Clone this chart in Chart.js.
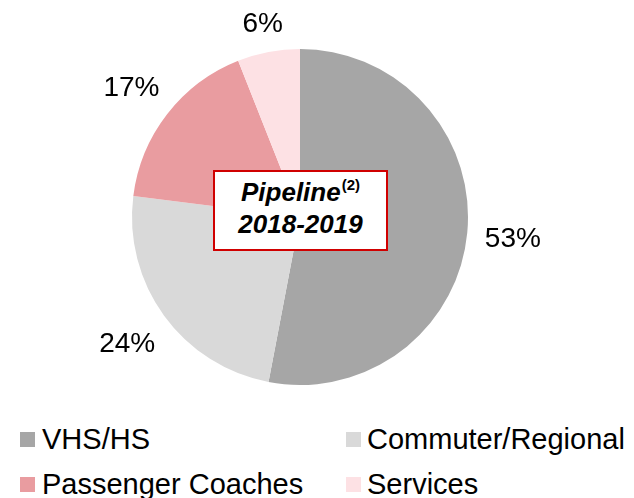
<!DOCTYPE html>
<html><head><meta charset="utf-8">
<script src="https://cdn.jsdelivr.net/npm/chart.js@4/dist/chart.umd.min.js"></script>
<style>
html,body{margin:0;padding:0;background:#fff;}
#wrap{position:relative;width:634px;height:498px;font-family:"Liberation Sans",Arial,sans-serif;overflow:hidden;}
#cv{position:absolute;left:0;top:0;}
#box{position:absolute;left:213px;top:170px;width:171px;height:77px;border:2px solid #d00000;background:#fff;box-sizing:content-box;text-align:center;font-weight:bold;font-style:italic;font-size:26px;color:#000;line-height:32px;}
#box .l1{margin-top:4px;}
#box sup{font-size:15px;position:relative;top:1px;vertical-align:top;line-height:15px;font-style:normal;margin-left:1px;}
.lg{position:absolute;font-size:29px;color:#000;white-space:nowrap;line-height:29px;height:29px;}
.lg span.m{position:absolute;left:0;width:15px;height:15px;}
.lg span.t{position:absolute;top:0;}
</style></head>
<body><div id="wrap"><canvas id="cv" width="634" height="400"></canvas>
<div id="box"><div class="l1">Pipeline<sup>(2)</sup></div><div>2018-2019</div></div>
<div id="legend"></div>
</div>
<script>
const categories = ["VHS/HS", "Commuter/Regional", "Passenger Coaches", "Services"];
const shares = [53, 24, 17, 6];
const colors = ["#a6a6a6", "#d9d9d9", "#e99ca0", "#fde1e4"];

// legend layout: column x and row y
const legendCols = [20, 346];
const legendRows = [425, 470];
const lg = document.getElementById('legend');
categories.forEach((c, i) => {
  const d = document.createElement('div');
  d.className = 'lg';
  d.style.left = legendCols[i % 2] + 'px';
  d.style.top = legendRows[Math.floor(i / 2)] + 'px';
  d.innerHTML = '<span class="m" style="top:7px;background:' + colors[i] + '"></span><span class="t" style="left:' + (i % 2 ? 21 : 22) + 'px">' + c + '</span>';
  lg.appendChild(d);
});

const outLabels = {
  id: 'outLabels',
  afterDatasetsDraw(chart) {
    const ctx = chart.ctx;
    const meta = chart.getDatasetMeta(0);
    ctx.save();
    ctx.font = '28px "Liberation Sans", Arial, sans-serif';
    ctx.fillStyle = '#000';
    ctx.textAlign = 'center';
    ctx.textBaseline = 'middle';
    meta.data.forEach((arc, i) => {
      const p = arc.getProps(['x', 'y', 'startAngle', 'endAngle', 'outerRadius'], true);
      const a = (p.startAngle + p.endAngle) / 2;
      const txt = shares[i] + '%';
      const w = ctx.measureText(txt).width;
      const r = p.outerRadius + 17 + Math.abs(Math.cos(a)) * w / 2 + Math.abs(Math.sin(a)) * 10;
      ctx.fillText(txt, p.x + Math.cos(a) * r, p.y + Math.sin(a) * r + 2);
    });
    ctx.restore();
  }
};

new Chart(document.getElementById('cv'), {
  type: 'pie',
  data: { labels: categories, datasets: [{ data: shares, backgroundColor: colors, borderWidth: 0 }] },
  options: {
    responsive: false, animation: false,
    layout: { padding: { left: 132, right: 166, top: 49, bottom: 15 } },
    plugins: { legend: { display: false }, tooltip: { enabled: false } }
  },
  plugins: [outLabels]
});
</script></body></html>
